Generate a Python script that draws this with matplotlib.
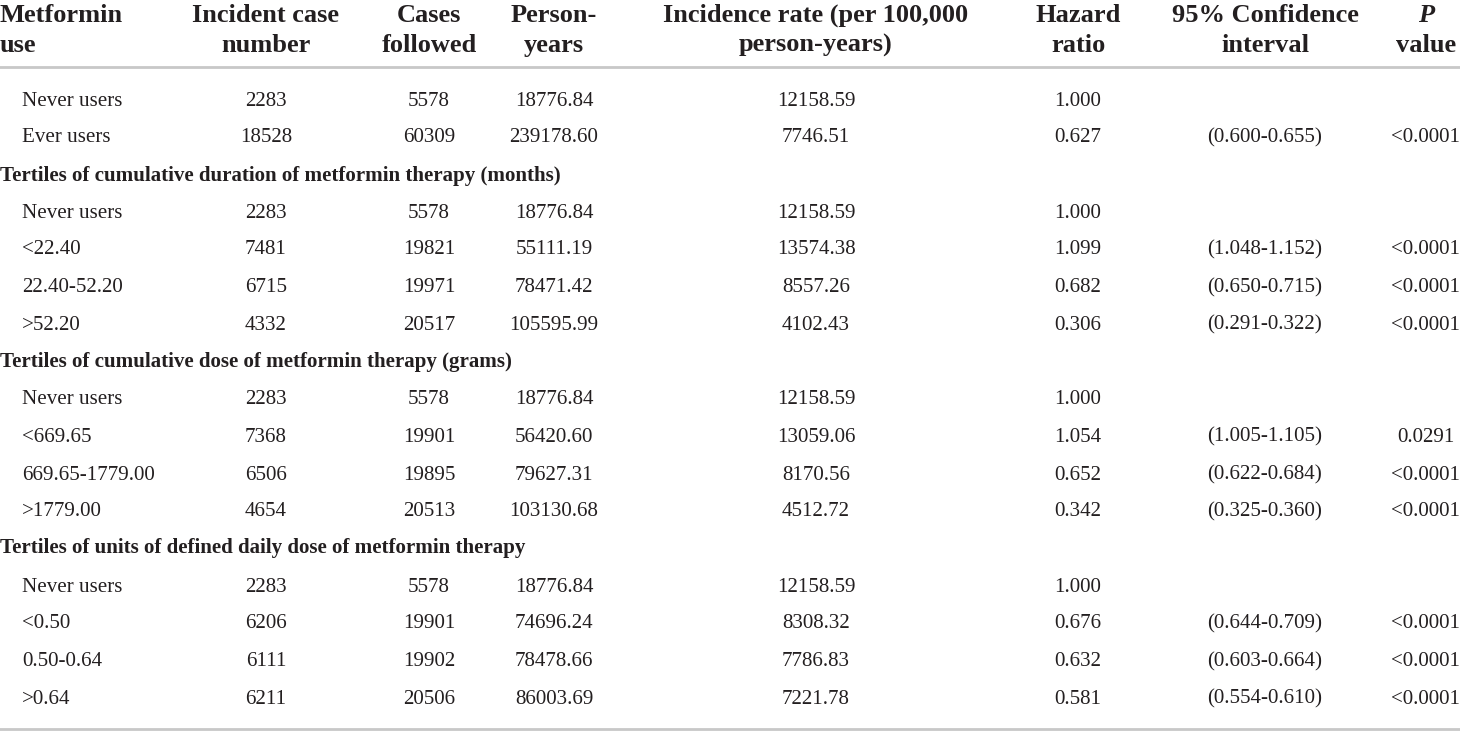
import matplotlib
matplotlib.use("Agg")
import matplotlib.pyplot as plt

# ---- data ----
headers = ["Metformin\nuse", "Incident case\nnumber", "Cases\nfollowed", "Person-\nyears",
           "Incidence rate (per 100,000\nperson-years)", "Hazard\nratio",
           "95% Confidence\ninterval", "P\nvalue"]

row_labels = ["Never users", "Ever users",
              "Tertiles of cumulative duration of metformin therapy (months)",
              "Never users", "<22.40", "22.40-52.20", ">52.20",
              "Tertiles of cumulative dose of metformin therapy (grams)",
              "Never users", "<669.65", "669.65-1779.00", ">1779.00",
              "Tertiles of units of defined daily dose of metformin therapy",
              "Never users", "<0.50", "0.50-0.64", ">0.64"]
is_section = [False, False, True, False, False, False, False, True,
              False, False, False, False, True, False, False, False, False]

incident = ["2283", "18528", "", "2283", "7481", "6715", "4332", "",
            "2283", "7368", "6506", "4654", "", "2283", "6206", "6111", "6211"]
followed = ["5578", "60309", "", "5578", "19821", "19971", "20517", "",
            "5578", "19901", "19895", "20513", "", "5578", "19901", "19902", "20506"]
person_years = ["18776.84", "239178.60", "", "18776.84", "55111.19", "78471.42", "105595.99", "",
                "18776.84", "56420.60", "79627.31", "103130.68", "",
                "18776.84", "74696.24", "78478.66", "86003.69"]
inc_rate = ["12158.59", "7746.51", "", "12158.59", "13574.38", "8557.26", "4102.43", "",
            "12158.59", "13059.06", "8170.56", "4512.72", "",
            "12158.59", "8308.32", "7786.83", "7221.78"]
hazard = ["1.000", "0.627", "", "1.000", "1.099", "0.682", "0.306", "",
          "1.000", "1.054", "0.652", "0.342", "", "1.000", "0.676", "0.632", "0.581"]
ci = ["", "(0.600-0.655)", "", "", "(1.048-1.152)", "(0.650-0.715)", "(0.291-0.322)", "",
      "", "(1.005-1.105)", "(0.622-0.684)", "(0.325-0.360)", "",
      "", "(0.644-0.709)", "(0.603-0.664)", "(0.554-0.610)"]
pval = ["", "<0.0001", "", "", "<0.0001", "<0.0001", "<0.0001", "",
        "", "0.0291", "<0.0001", "<0.0001", "",
        "", "<0.0001", "<0.0001", "<0.0001"]

W, H = 1460, 731
fig = plt.figure(figsize=(W / 100, H / 100), dpi=100)
ax = fig.add_axes([0, 0, 1, 1])
ax.set_xlim(0, W)
ax.set_ylim(H, 0)
ax.axis("off")

serif = ["Liberation Serif", "DejaVu Serif"]
txt_col = "#231f20"
body_fs = 15.1
head_fs = 19.0

col_x = [0, 266, 429, 554, 816, 1078, 1265, 1426]
label_x = 22

# header (baseline-aligned)
for i, h in enumerate(headers):
    ha = "left" if i == 0 else "center"
    lines = h.split("\n")
    for j, ln in enumerate(lines):
        st = "italic" if (i == len(headers) - 1 and j == 0) else "normal"
        ax.text(col_x[i], 21.5 + j * 30.5, ln, ha=ha, va="baseline", fontsize=head_fs,
                fontweight="bold", fontstyle=st, family=serif, color=txt_col)

ax.plot([0, W], [67, 67], color="#c8c8c8", lw=2)
ax.plot([0, W], [729, 729], color="#c8c8c8", lw=2)

y0, dy = 105, 37.37
columns = [incident, followed, person_years, inc_rate, hazard, ci, pval]
for r, lab in enumerate(row_labels):
    y = round(y0 + r * dy) + 0.5
    if is_section[r]:
        ax.text(0, y, lab, ha="left", va="baseline", fontsize=body_fs,
                fontweight="bold", family=serif, color=txt_col)
        continue
    ax.text(label_x, y, lab, ha="left", va="baseline", fontsize=body_fs,
            family=serif, color=txt_col)
    for c, colvals in enumerate(columns):
        ax.text(col_x[c + 1], y, colvals[r], ha="center", va="baseline",
                fontsize=body_fs, family=serif, color=txt_col)

fig.savefig("out.png", dpi=100)
